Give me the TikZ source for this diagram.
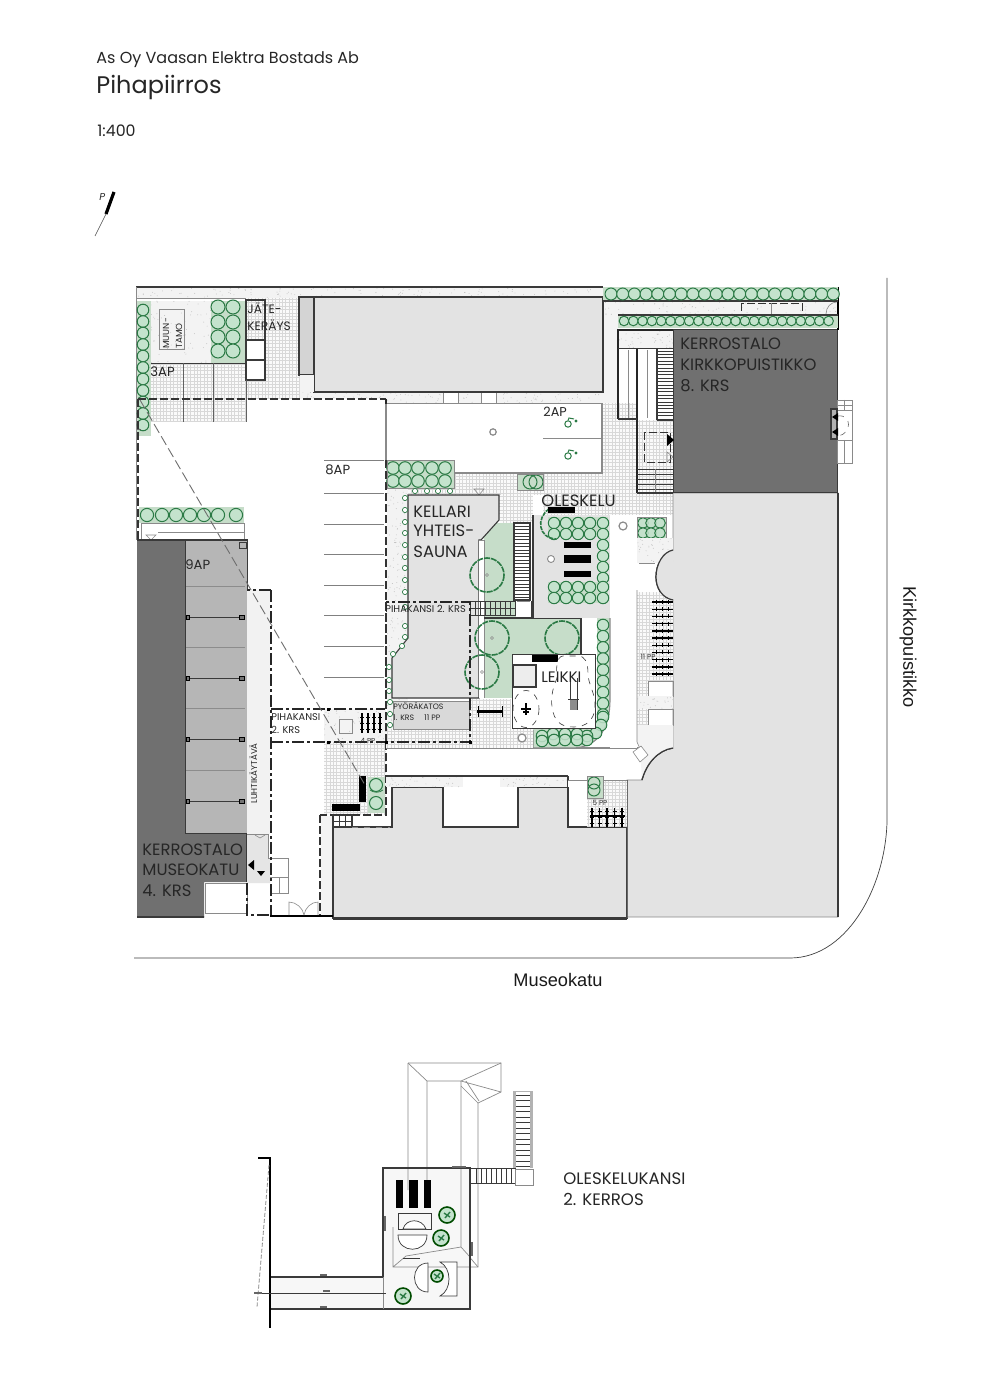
\documentclass[tikz,border=0pt]{standalone}
\usepackage{fontspec}
\setmainfont{Poppins}
\newfontfamily\arialf{Liberation Sans}
\usetikzlibrary{calc}
\definecolor{dk}{HTML}{3A3A3A}
\definecolor{bdark}{HTML}{707070}
\definecolor{bmid}{HTML}{B6B6B6}
\definecolor{blight}{HTML}{E3E3E3}
\definecolor{stipbg}{HTML}{F3F3F3}
\definecolor{stipdot}{HTML}{BEBEBE}
\definecolor{gridbg}{HTML}{FAFAFA}
\definecolor{gridln}{HTML}{D8D8D8}
\definecolor{gback}{HTML}{C6DDC9}
\definecolor{mint}{HTML}{C4E3CD}
\definecolor{dgreen}{HTML}{2B7A45}
\definecolor{ringc}{HTML}{8A8A8A}
\tikzset{
  edge/.style={draw=dk,line width=.55pt},
  thin edge/.style={draw=ringc,line width=.3pt},
  thickb/.style={draw=black!85,line width=.9pt},
  dashdot/.style={draw=black!85,line width=.65pt,dash pattern=on 6pt off 1.5pt on 1.5pt off 1.5pt},
  dashk/.style={draw=black!80,line width=.65pt,dash pattern=on 4pt off 1.5pt},
  hc/.style={draw=dgreen,fill=mint,line width=.5pt},
  rc/.style={draw=dgreen,fill=white,line width=.35pt},
  treec/.style={draw=dgreen,line width=.8pt,dash pattern=on 3pt off .5pt},
  ring/.style={draw=ringc,fill=white,line width=.6pt},
  lab/.style={anchor=base west,inner sep=0pt,text=black!85},
  steps/.style={draw=dk,line width=.3pt},
}
\newcommand\fs[1]{\fontsize{#1}{#1}\selectfont}
\newcommand\gridbox[4]{\fill[gridbg] (#1,#2) rectangle (#3,#4);\draw[gridln,line width=.12pt,xstep=1.7pt,ystep=1.7pt] (#1,#2) grid (#3,#4);}
\newcommand\stip[5]{\fill[stipbg] (#1,#2) rectangle (#3,#4);\foreach \i in {1,...,#5}{\pgfmathsetmacro\xa{#1+rnd*(#3-#1)}\pgfmathsetmacro\ya{#2+rnd*(#4-#2)}\fill[stipdot] (\xa,\ya) circle (.45);}}
\newcommand\bikeh[3]{\draw[black,line width=.7pt] (#1,#3) -- (#2,#3);
  \foreach \d in {.2,.5,.8}{\draw[black,line width=.35pt] ($(#1,#3)+(\d*#2-\d*#1,-2)$) -- ($(#1,#3)+(\d*#2-\d*#1,2)$);}}
\newcommand\bikev[3]{\draw[black,line width=.7pt] (#1,#2) -- (#1,#3);
  \foreach \d in {.2,.5,.8}{\draw[black,line width=.35pt] ($(#1,#2)+(-2,\d*#3-\d*#2)$) -- ($(#1,#2)+(2,\d*#3-\d*#2)$);}}
\newcommand\wheel[2]{\draw[dgreen,line width=.5pt] (#1,#2) circle (3.2);\draw[dgreen,line width=.5pt] (#1,#2-3.5) -- (#1+1,#2-6) -- (#1+6,#2-5);\draw[dgreen,line width=.5pt] (#1+8,#2-3) circle (1);}
\begin{document}
\begin{tikzpicture}[x=.5pt,y=-.5pt]
\pgfmathsetseed{11}
\useasboundingbox (0,0) rectangle (990,1400);
\fill[white] (0,0) rectangle (990,1400);

% ---------- title block
\node[lab,font=\fs{8}] (t1) at (96,64) {As Oy Vaasan Elektra Bostads Ab};
\node[lab,font=\fs{12}] (t2) at (96,94) {Pihapiirros};
\node[lab,font=\fs{7.9}] (t3) at (97,137) {1:400};
\node[lab,font=\itshape\fs{5}] (np) at (99,201) {P};
\draw[black,line width=1.6pt] (114,192) -- (106,214);
\draw[black!70,line width=.3pt] (106,214) -- (95,236);

% ---------- street edge
\draw[black!75,line width=.35pt] (887,278) -- (887,812) .. controls (889,880) and (850,958) .. (790,958) -- (134,958);
\node[font=\arialf\fs{9.1},rotate=-90,text=black!90] (kp) at (908,647) {Kirkkopuistikko};
\node[font=\arialf\fs{9.1},text=black!90] (mk) at (558,980) {Museokatu};

% ---------- ground surfaces
\stip{136}{287}{603}{298}{140}
\draw[edge] (136,287) -- (603,287);
\draw[thin edge] (136,298) -- (300,298);
\draw[thin edge] (136,287) -- (136,540);
\stip{151}{301}{211}{363}{70}
\gridbox{151}{363}{246}{422}
\gridbox{246}{298}{300}{399}
\stip{300}{392}{603}{403}{120}
\fill[white] (443,392) rectangle (458,403);
\fill[white] (481,392) rectangle (496,403);
\draw[thin edge] (443,392) rectangle (458,403);
\draw[thin edge] (481,392) rectangle (496,403);
\draw[thin edge] (300,403) -- (618,403);
\fill[stipbg] (603,301) rectangle (618,403);
\stip{603}{301}{838}{315}{80}
\stip{387}{488}{408}{740}{140}
\gridbox{603}{403}{637}{515}
\gridbox{454}{474}{603}{495}
\gridbox{408}{488}{533}{515}
\gridbox{500}{495}{533}{523}
\gridbox{543}{474}{637}{515}
\gridbox{637}{420}{673}{515}

% ---------- white pavement
\fill[white] (138,399) rectangle (386,540);
\fill[white] (247,540) rectangle (386,709);
\fill[white] (271,742) rectangle (320,915);
\fill[white] (387,404) rectangle (602,460);
\fill[white] (454,460) rectangle (602,473);
\gridbox{151}{399}{246}{422}

% ---------- big grey buildings
\filldraw[fill=blight,edge] (314,297) rectangle (603,392);
\filldraw[fill=black!17,edge] (299,297) rectangle (314,375);
\fill[stipbg] (300,375) rectangle (314,392);
\filldraw[fill=blight,edge] (333,918) -- (333,827) -- (392,827) -- (392,787) -- (443,787) -- (443,827) -- (518,827) -- (518,787) -- (568,787) -- (568,827) -- (627,827) -- (627,918) -- cycle;
\fill[blight,draw=ringc,line width=.3pt] (673,493) -- (838,493) -- (838,917) -- (627,917) -- (627,780) -- (642,780) .. controls (646,764) and (658,750) .. (673,748) -- (673,600) .. controls (662,598) and (656,588) .. (656,577) .. controls (656,564) and (663,552) .. (673,550) -- cycle;
\draw[dk,line width=.6pt] (838,493) -- (838,917);
\draw[dk,line width=.6pt] (627,780) -- (627,917) (642,780) .. controls (646,764) and (658,750) .. (673,748);
\draw[dk,line width=.6pt] (673,600) .. controls (662,598) and (656,588) .. (656,577) .. controls (656,564) and (663,552) .. (673,550);
\draw[dk,line width=.9pt] (333,919) -- (627,919);

% ---------- Kirkkopuistikko block
\filldraw[fill=bdark,draw=dk,line width=.5pt] (673,330) rectangle (837,493);
\stip{619}{331}{673}{348}{40}
\draw[thickb] (618,419) -- (618,330) -- (673,330);
\draw[thickb] (637,348) -- (637,493);
\draw[edge,line width=.4pt] (618,348) -- (673,348);
\draw[edge] (618,419) -- (637,419) (657,420) -- (673,420);
\draw[thin edge] (628,350) -- (628,418) (647,350) -- (647,418);
\foreach \y in {351,354.4,...,420}{\draw[steps] (657,\y) -- (673,\y);}
\draw[edge] (657,348) -- (657,420);
\draw[dashk,line width=.4pt] (644,432) rectangle (670,462);
\fill[black] (667,434) -- (674,440) -- (667,446) -- cycle;
\draw[ringc,line width=.3pt] (667,452) -- (673,457) -- (667,462) -- cycle;
\foreach \y in {469,474,479,484,489}{\draw[steps,line width=.4pt] (637,\y) -- (673,\y);}
\draw[thin edge] (655,469) -- (655,493);
\draw[edge] (637,493) -- (673,493);
% door and side stair at right
\draw[thin edge] (837,400) rectangle (852,463);
\draw[thin edge] (837,405) -- (852,405) (837,410) -- (852,410) (837,440) -- (852,440) (844,440) -- (844,463) (844,400) -- (844,410);
\draw[edge,fill=black!30] (831,409) rectangle (837,439);
\fill[black] (832,417) -- (838,413) -- (838,421) -- cycle;
\fill[black] (832,432) -- (838,428) -- (838,436) -- cycle;
\draw[black!60,line width=.3pt,dashed] (838,416) .. controls (852,414) and (852,434) .. (838,436);
\draw[black,line width=.9pt] (838,287) -- (838,330);
\draw[dashk,line width=.3pt] (741,303) rectangle (802,315);
\draw[thin edge] (771,303) -- (771,315);
\draw[thin edge] (826,314) .. controls (826,307) and (831,302) .. (837,302);

% ---------- hedges top right
\fill[gback] (603,287) rectangle (838,301);
\draw[edge] (603,301) -- (838,301);
\foreach \x in {611,622.7,...,836}{\draw[hc] (\x,294) circle (6);}
\fill[gback] (618,315) rectangle (838,328);
\draw[edge] (618,315) -- (838,315);
\foreach \x in {624,633.3,...,836}{\draw[hc] (\x,321) circle (4.8);}

% ---------- left hedges and muuntamo
\fill[gback] (137,301) rectangle (151,436);
\foreach \y in {310,321.5,...,436}{\draw[hc] (143,\y) circle (5.8);}
\fill[gback] (211,301) rectangle (245,363);
\foreach \x in {218,233}{\foreach \y in {307,322,337,351}{\draw[hc] (\x,\y) circle (7);}}
\draw[edge,line width=.4pt] (151,363) -- (246,363);
\draw[thin edge] (159,309) rectangle (184,349);
\node[lab,font=\fs{4.4},rotate=90] (mu1) at (169,349) {MUUN-};
\node[lab,font=\fs{4.4},rotate=90] (mu2) at (182,349) {TAMO};
\draw[edge] (246,300) rectangle (265,380);
\fill[white] (247,341) rectangle (264,359);
\fill[white] (247,361) rectangle (264,379);
\draw[edge] (246,340) -- (265,340) (246,360) -- (265,360);
\draw[dk!80,line width=.3pt] (183,363) -- (183,422) (213,363) -- (213,422) (246,380) -- (246,422);
\node[lab,font=\fs{6.1}] (jk1) at (247,314) {JÄTE-};
\node[lab,font=\fs{6.1}] (jk2) at (247,331) {KERÄYS};
\node[lab,font=\fs{6.6}] (ap3) at (150,377) {3AP};

% small hedge left
\fill[gback] (139,507) rectangle (244,523);
\foreach \x in {147,162,176,190,204,218,236}{\draw[hc] (\x,515) circle (6.6);}
\draw[thin edge] (141,523) rectangle (244,540);
\draw[thin edge] (158,532) -- (244,532);
\draw[ringc,line width=.3pt] (146,535) -- (156,535) -- (151,540) -- cycle;

% ---------- Museokatu block
\fill[bdark] (137,540) -- (185,540) -- (185,833) -- (247,833) -- (247,882) -- (204,882) -- (204,917) -- (137,917) -- cycle;
\draw[dk,line width=.6pt] (137,540) -- (247,540) -- (247,882) (204,917) -- (137,917) -- cycle;
\filldraw[fill=bmid,draw=dk,line width=.5pt] (185,540) rectangle (247,833);
\filldraw[fill=bmid,draw=dk,line width=.4pt] (239,542) rectangle (246,548);
\foreach \y in {586,647,708,770}{\draw[black!45,line width=.4pt] (186,\y) -- (245,\y);}
\foreach \y in {617,678,739,801}{\draw[dk,line width=.35pt] (186,\y) -- (245,\y);
  \filldraw[fill=black!55,draw=black,line width=.3pt] (186,\y-2) rectangle (189,\y+2);
  \filldraw[fill=black!55,draw=black,line width=.3pt] (239,\y-2) rectangle (244,\y+2);}
\fill[black!5] (247,590) rectangle (270,834);
\fill[white] (205,883) rectangle (247,913);
\draw[thin edge] (205,883) rectangle (247,913);
\fill[black!10] (247,834) -- (268,834) -- (268,858) -- (270,858) -- (270,883) -- (247,883) -- cycle;
\draw[thin edge] (247,834) -- (268,834) -- (268,858) -- (288,858) -- (288,893) -- (270,893);
\draw[thin edge] (270,877) -- (288,877) (279,877) -- (279,893);
\fill[black] (248,865) -- (254,860) -- (254,870) -- cycle;
\fill[black] (257,871) -- (265,871) -- (261,876) -- cycle;
\draw[thin edge] (255,835) -- (260,838) -- (265,835);
\node[lab,font=\fs{4.3},rotate=90] (lu) at (257,804) {LUHTIKÄYTÄVÄ};
\node[lab,font=\fs{8.2}] (ke1) at (142,855) {KERROSTALO};
\node[lab,font=\fs{8.2}] (ke2) at (142,875) {MUSEOKATU};
\node[lab,font=\fs{8.2}] (ke3) at (142,896) {4. KRS};
\node[lab,font=\fs{6.6}] (ap9) at (185,569) {9AP};

% ---------- parking at centre
\foreach \y in {460,493,524,554,585,615,646,677}{\draw[black!50,line width=.4pt] (324,\y) -- (384,\y);}
\node[lab,font=\fs{6.6}] (ap8) at (325,474) {8AP};
\draw[dashk] (138,399) -- (386,399);
\draw[dashk] (138,399) -- (138,540);
\draw[dash pattern=on 5pt off 2pt,draw=black!85,line width=.65pt] (386,399) -- (386,460);
\draw[dashk] (386,460) -- (386,709);

% ---------- bike shelter / lower-left court
\gridbox{324}{742}{386}{815}
\stip{324}{709}{386}{742}{50}
\fill[white] (271,710) rectangle (324,742);
\draw[thin edge] (339,719) rectangle (352,733);
\foreach \x in {362,368,374,380}{\bikev{\x}{713}{733}}
\node[font=\fs{3.6},text=black!80] (pp4) at (368,741) {4 PP};
\fill[gback] (368,777) rectangle (385,813);
\draw[hc] (376,785) circle (6.5);
\draw[hc] (376,803) circle (6.5);
\draw[dgreen,line width=.4pt] (370,790) .. controls (374,793) and (379,793) .. (383,790);
\fill[black] (359,776) rectangle (366,802);
\fill[black] (332,804) rectangle (360,811);
\draw[dashk,line width=.8pt] (386,742) -- (386,815) -- (320,815);
\fill[stipbg] (321,816) rectangle (332,915);
\draw[dashk,line width=.7pt] (320,815) -- (320,916);
\draw[black,line width=1pt] (270,916) -- (333,916);
\draw[edge] (333,815) rectangle (352,827);
\draw[steps] (339,815) -- (339,827) (345,815) -- (345,827) (333,821) -- (352,821);
\draw[ringc,line width=.3pt,dashed] (352,827) -- (390,827);
\draw[thin edge] (289,915) -- (289,902) .. controls (296,902) and (303,908) .. (304,915);
\draw[thin edge] (318,915) -- (318,902) .. controls (311,902) and (305,908) .. (304,915);

% ---------- central kellari, courtyard
\stip{386}{776}{463}{787}{35}
\stip{500}{776}{568}{787}{35}
\draw[edge] (386,776) -- (568,776);
\draw[edge] (568,776) -- (568,787);
\draw[edge,draw=ringc] (386,748) -- (640,748);
% hedge above Kellari
\fill[gback] (387,460) rectangle (454,488);
\foreach \x in {393,405,418,432,445}{\foreach \y in {468,481}{\draw[hc] (\x,\y) circle (6.3);}}
\draw[thin edge] (387,460) rectangle (454,488);
\draw[ringc,line width=.3pt] (474,489) -- (484,489) -- (479,495) -- cycle;
\fill[gback] (517,474) rectangle (543,490);
\draw[hc,fill=none] (530,482) circle (7);\draw[hc,fill=none] (536,482) circle (7);
\draw[thin edge] (517,474) rectangle (543,490);
\draw[ring] (493,432) circle (3.2);
\draw[edge,draw=ringc] (386,404) -- (386,460);
\draw[thin edge] (543,438) -- (601,438);
\draw[edge,draw=ringc] (454,473) -- (602,473) -- (602,404);
\wheel{568}{424}\wheel{568}{456}
\node[lab,font=\fs{6.4}] (ap2) at (543,417) {2AP};

% green courtyard
\fill[gback] (484,523) rectangle (513,601);
\fill[gback] (484,601) rectangle (516,618);
\fill[gback] (484,618) rectangle (581,654);
\fill[gback] (484,654) rectangle (512,698);
\filldraw[fill=blight,edge] (408,495) -- (499,495) -- (499,520) -- (481,540) -- (479,540) -- (479,698) -- (392,698) -- (392,658) -- (408,638) -- cycle;
\fill[white] (479,540) rectangle (484,698);
\draw[thin edge] (479,540) -- (484,540) -- (484,698);
\draw[edge] (484,618) -- (581,618) -- (581,654);
\draw[treec] (487,575) circle (17);
\draw[thin edge] (487,575) circle (1.5);
\draw[treec] (492,638) circle (17);
\draw[thin edge] (492,638) circle (1.5);
\draw[treec] (562,638) circle (17);
\draw[treec] (482,672) circle (17);
\draw[thin edge] (482,672) circle (1.5);
% stairs in courtyard
\fill[white] (514,523) rectangle (530,600);
\foreach \y in {526,529.4,...,600}{\draw[steps] (514,\y) -- (530,\y);}
\draw[edge] (514,523) rectangle (530,600);
\fill[white] (516,601) rectangle (532,617);
\draw[edge] (532,601) -- (532,618) -- (516,618);
\foreach \x in {470,475,...,515}{\draw[steps] (\x,601) -- (\x,615);}
\draw[steps] (470,601) -- (516,601) (470,608) -- (516,608) (470,615) -- (516,615);
\draw[thin edge] (517,601) -- (530,601);
\node[lab,font=\fs{8.2}] (ke5) at (413,517) {KELLARI};
\node[lab,font=\fs{8.2}] (ke6) at (413,537) {YHTEIS-};
\node[lab,font=\fs{8.2}] (ke7) at (413,557) {SAUNA};

% hedge ring beside Kellari
\foreach \x/\y in {415/491,427/491,438/491,450/491,405/498,405/510,405/522,405/533,405/545,405/557,405/568,405/580,405/592,405/607,405/626,405/637,402/646,393/654,389/667,389/680,389/691,390/702,390/714,390/725}{\draw[rc] (\x,\y) circle (2.6);}

% oleskelu
\fill[blight] (533,515) rectangle (610,618);
\draw[edge] (533,515) -- (533,618);
\fill[gback] (548,517) rectangle (608,537);
\foreach \x in {554,566,578,590,603}{\foreach \y in {523,534}{\draw[hc] (\x,\y) circle (5.7);}}
\foreach \y in {545,556,567,578}{\draw[hc] (603,\y) circle (5.7);}
\fill[gback] (548,582) rectangle (608,603);
\foreach \x in {554,566,578,590,603}{\foreach \y in {587,598}{\draw[hc] (\x,\y) circle (5.7);}}
\fill[black] (564,542) rectangle (591,548);
\fill[black] (564,555) rectangle (591,563);
\fill[black] (564,571) rectangle (591,577);
\draw[ring,line width=.45pt] (551,559) circle (3.5);
\draw[dgreen,line width=.8pt,dash pattern=on 2pt off .5pt] (549,509) .. controls (536,518) and (538,538) .. (556,539);
\fill[black] (548,507) rectangle (575,513);
\node[lab,font=\fs{8.2}] (ol) at (541,507) {OLESKELU};
\fill[white] (610,515) rectangle (637,748);
\draw[ring] (623,526) circle (4);
\fill[gback] (637,517) rectangle (666,538);
\foreach \x in {643,651,660}{\foreach \y in {523,533}{\draw[hc,fill opacity=.8] (\x,\y) circle (5.3);}}
\draw[thin edge] (637,517) rectangle (666,538);

% right side strip
\stip{637}{538}{673}{563}{35}
\fill[white] (639,563) rectangle (655,592);
\draw[thin edge] (639,563) -- (655,563) (639,592) -- (655,592);
\gridbox{637}{592}{673}{681}
\fill[blight] (673,550) .. controls (663,552) and (656,564) .. (656,577) .. controls (656,588) and (662,598) .. (673,600) -- cycle;
\draw[dk,line width=.6pt] (673,600) .. controls (662,598) and (656,588) .. (656,577) .. controls (656,564) and (663,552) .. (673,550);
\foreach \y in {602,609.2,...,676}{\bikeh{652}{673}{\y}}
\node[font=\fs{3.6},text=black!80] (pp11) at (648,657) {11 PP};
\gridbox{637}{681}{648}{696}
\draw[thin edge] (648,681) rectangle (673,696);
\stip{637}{696}{673}{709}{22}
\gridbox{637}{709}{648}{725}
\draw[thin edge] (648,709) rectangle (673,725);
\fill[stipbg] (637,725) -- (673,725) -- (673,748) .. controls (658,750) and (646,764) .. (642,780) -- (640,748) -- (637,742) -- cycle;
\draw[thin edge] (637,590) -- (637,742) -- (642,753);
\draw[dk,line width=.6pt] (642,780) .. controls (646,764) and (658,750) .. (673,748);
\filldraw[fill=white,thin edge] (633,752) -- (641,746) -- (648,755) -- (640,762) -- cycle;

% ---------- playground
\fill[gback] (597,618) -- (610,618) -- (610,700) .. controls (610,725) and (600,748) .. (572,748) -- (533,748) -- (533,728) -- (597,728) -- cycle;
\draw[edge,draw=ringc] (610,618) -- (610,700) .. controls (610,725) and (600,748) .. (572,748) -- (533,748) -- (533,730);
\gridbox{386}{729}{533}{748}
\draw[thin edge] (386,748) -- (533,748);
\draw[ring] (522,738) circle (4);
\foreach \y in {625,636.2,...,716}{\draw[hc] (603,\y) circle (5.8);}
\foreach \x/\y in {603/717,601/725,596/733,587/736,587/740,577/734,577/740,565/734,565/740,553/734,554/740,542/736,542/741}{\draw[hc,fill opacity=.85] (\x,\y) circle (5.8);}
\gridbox{470}{699}{511}{729}
\filldraw[fill=black!15,draw=ringc,line width=.3pt] (393,701) rectangle (469,729);
\fill[black] (477,710) rectangle (503,713);
\draw[black,line width=.5pt] (478,706) -- (478,717) (502,706) -- (502,717);
\draw[dk,line width=.4pt,fill=white] (512,654) rectangle (595,728);
\draw[edge,fill=black!7] (513,665) rectangle (536,687);
\fill[black] (532,655) rectangle (558,662);
\draw[dk,line width=.3pt,dashed] (526,709) ellipse (13 and 18.5);
\draw[dk,line width=.3pt,dashed,fill=white] (563,656) .. controls (556,656) and (556,672) .. (557,678) .. controls (552,690) and (550,700) .. (553,712) .. controls (556,724) and (564,727) .. (574,727) .. controls (586,727) and (594,720) .. (595,708) .. controls (596,694) and (588,684) .. (588,674) .. controls (588,662) and (585,656) .. (578,656) -- cycle;
\draw[black,line width=.8pt] (526,703) -- (526,715);
\draw[black,line width=.6pt] (521,709) -- (531,709) (523,712) -- (529,712);
\draw[dk,line width=.4pt] (570,678) -- (570,710) (577,678) -- (577,710) (568,699) -- (579,699);
\fill[black!45] (570,700) rectangle (577,710);
\node[lab,font=\fs{7.6}] (lk) at (541,682) {LEIKKI};

% hedge and bikes bottom
\gridbox{587}{780}{627}{827}
\fill[white] (568,780) rectangle (587,827);
\draw[thin edge] (568,780) -- (627,780);
\draw[edge] (568,787) -- (568,827) -- (587,827);
\fill[gback] (587,776) rectangle (603,798);
\draw[hc,fill=none] (594,783) circle (6);
\draw[hc,fill=none] (594,790) circle (6);
\draw[thin edge] (587,776) rectangle (603,798);
\foreach \x in {592,599.5,...,625}{\bikev{\x}{808}{827}}
\draw[black,line width=.6pt] (590,816) -- (625,816);
\node[font=\fs{3.6},text=black!80] (pp5) at (600,803) {5 PP};

% ---------- dash-dot decks
\draw[dashdot] (271,590) -- (247,590);
\draw[dashdot] (271,590) -- (271,915);
\draw[dashdot] (247,883) -- (247,915) -- (271,915);
\draw[dashdot] (271,709) -- (385,709);
\draw[dashdot] (271,742) -- (470,742) -- (470,602) -- (386,602);
\draw[dashk] (386,602) -- (386,742);
\foreach \x/\y in {328/709,328/742,386/742,470/742}{\fill[black] (\x-1.5,\y-1.5) rectangle (\x+1.5,\y+1.5);}
\draw[ringc!80!black,line width=.45pt,dash pattern=on 5pt off 2pt] (140,400) -- (365,785);
\draw[black!60,line width=.3pt] (137,429) -- (141,429);
\node[lab,font=\fs{4.9}] (pk1) at (385,612) {PIHAKANSI 2. KRS};
\node[lab,font=\fs{4.9}] (pk2) at (271,720) {PIHAKANSI};
\node[lab,font=\fs{4.9}] (pk3) at (271,733) {2. KRS};
\node[lab,font=\fs{3.9}] (py1) at (393,709) {PYÖRÄKATOS};
\node[lab,font=\fs{3.9}] (py2) at (393,720) {1. KRS\hspace{5pt}11 PP};
\node[lab,font=\fs{8.2}] (kk1) at (680,350) {KERROSTALO};
\node[lab,font=\fs{8.2}] (kk2) at (680,371) {KIRKKOPUISTIKKO};
\node[lab,font=\fs{8.2}] (kk3) at (680,392) {8. KRS};

% ---------- inset: oleskelukansi
\draw[ringc,line width=.35pt] (408,1063) -- (501,1063) -- (501,1092) -- (478,1103) -- (478,1267) -- (393,1267) -- (393,1227);
\draw[ringc,line width=.35pt] (408,1063) -- (408,1168) (427,1081) -- (461,1081) -- (461,1247) -- (478,1267);
\draw[ringc,line width=.35pt] (427,1081) -- (427,1168) (408,1063) -- (427,1081) (501,1063) -- (461,1081) (501,1092) -- (461,1081) (461,1086) -- (478,1103) (466,1081) -- (479,1101);
\fill[black!3] (270,1277) rectangle (383,1309);
\fill[black!3] (383,1168) rectangle (470,1309);
\draw[ringc,line width=.35pt] (408,1168) -- (408,1190) (427,1168) -- (427,1200) (461,1168) -- (461,1247) -- (470,1257) (393,1227) -- (393,1267) -- (470,1267) (393,1267) -- (406,1256) -- (461,1247);
\draw[dk,line width=.7pt] (383,1277) -- (383,1168) -- (470,1168) -- (470,1309) -- (270,1309);
\draw[dk,line width=.7pt] (270,1277) -- (383,1277);
\draw[ringc,line width=.3pt] (383,1277) -- (383,1309);
\draw[black,line width=1.2pt] (270,1159) -- (270,1328) (258,1158) -- (271,1158);
\draw[ringc,line width=.4pt,dash pattern=on 2pt off 1pt] (269,1165) -- (257,1307);
\draw[dk,line width=.3pt] (258,1293) -- (386,1293);
\draw[black!60,line width=.8pt] (320,1275) -- (327,1275) (320,1307) -- (327,1307) (452,1167) -- (466,1167) (323,1291) -- (330,1291) (254,1293) -- (262,1293);
\draw[black!60,line width=.7pt] (385,1216) -- (385,1231) (472,1242) -- (472,1256);
\fill[black!30] (513,1091) rectangle (533,1168);
\fill[white] (516,1092) rectangle (530,1168);
\foreach \y in {1095,1100.5,...,1168}{\draw[steps] (516,\y) -- (530,\y);}
\draw[dk,line width=.5pt] (470,1168) -- (516,1168) (470,1183) -- (516,1183);
\foreach \x in {476,481,...,515}{\draw[steps] (\x,1168) -- (\x,1183);}
\draw[thin edge] (515,1169) rectangle (533,1185);
\fill[black] (396,1180) rectangle (403,1208);
\fill[black] (409,1180) rectangle (418,1208);
\fill[black] (424,1180) rectangle (431,1208);
\draw[dk,line width=.35pt] (398,1213) rectangle (431,1229);
\filldraw[fill=white,draw=dk,line width=.35pt] (403,1229) .. controls (406,1218) and (422,1218) .. (426,1229) -- cycle;
\filldraw[fill=white,draw=dk,line width=.35pt] (398,1235) -- (427,1235) .. controls (427,1254) and (398,1254) .. (398,1235) -- cycle;
\draw[dk,line width=.35pt] (403,1258) -- (420,1258);
\filldraw[fill=white,draw=dk,line width=.35pt] (428,1263) .. controls (410,1263) and (410,1292) .. (428,1292) -- cycle;
\filldraw[fill=white,draw=dk,line width=.35pt] (440,1262) -- (457,1262) -- (457,1296) -- (440,1296) .. controls (452,1290) and (452,1268) .. (440,1262) -- cycle;
\foreach \x/\y/\r in {447/1215/8,441/1238/8,437/1276/6,403/1296/8}{\filldraw[fill=mint,draw=black!70!green,line width=.8pt] (\x,\y) circle (\r);\draw[dgreen,line width=.7pt] (\x-3,\y-2) -- (\x+3,\y+2) (\x+3,\y-3) -- (\x-2,\y+3);}
\node[lab,font=\fs{8.3}] (ok1) at (563,1184) {OLESKELUKANSI};
\node[lab,font=\fs{8.3}] (ok2) at (563,1205) {2. KERROS};
\end{tikzpicture}
\end{document}
